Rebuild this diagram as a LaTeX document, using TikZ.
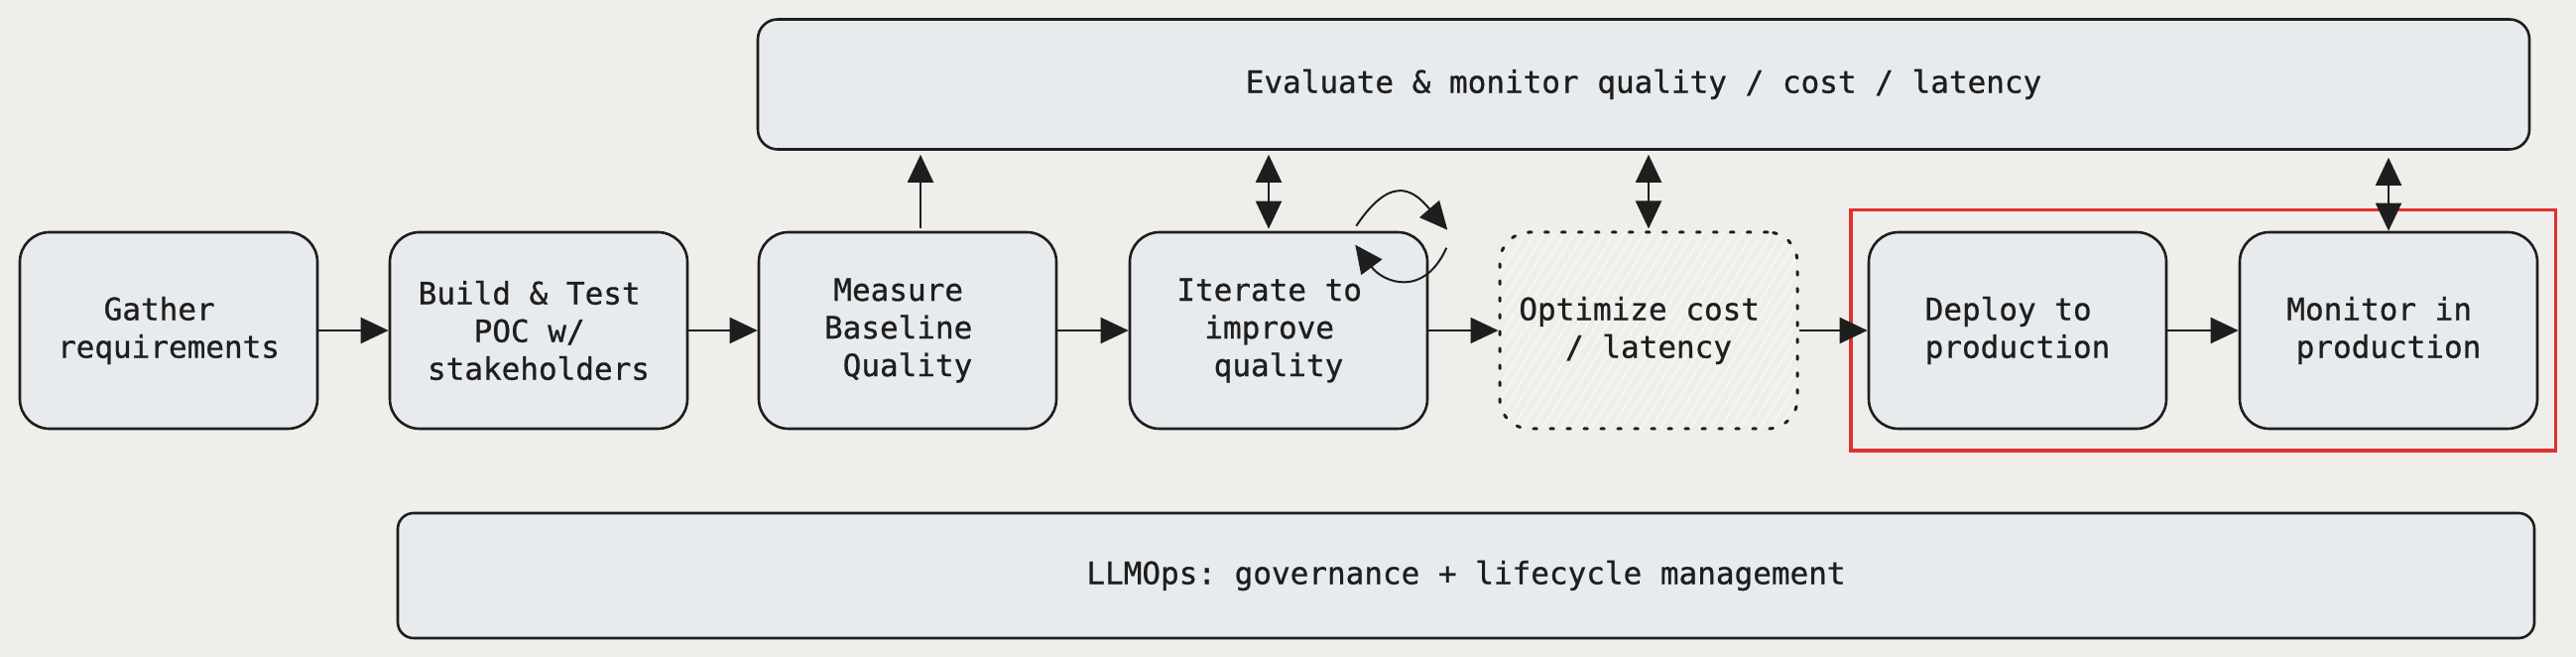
\documentclass[tikz,border=0pt]{standalone}
\usepackage{fontspec}
\setmonofont[FakeBold=0.8]{DejaVu Sans Mono}
\usepackage{tikz}
\usetikzlibrary{calc,arrows.meta,patterns.meta,fit}

\definecolor{bgpaper}{HTML}{EFEEEA}
\definecolor{boxfill}{HTML}{E8EBEE}
\definecolor{hatchline}{HTML}{FAFAF8}
\definecolor{inkline}{HTML}{1E1E1E}
\definecolor{redframe}{HTML}{E03131}

\newcommand{\trail}{\hphantom{x}}

\tikzset{
    stepbox/.style={draw=inkline, fill=boxfill, line width=1.3pt, rounded corners=15pt,
        minimum width=150pt, minimum height=99pt, align=center, text=inkline,
        font=\ttfamily\fontsize{15.5}{19}\selectfont},
    optbox/.style={fill=none, preaction={fill=bgpaper},
        pattern={Lines[angle=58,distance=4pt,line width=0.7pt]}, pattern color=hatchline,
        dash pattern=on 1.8pt off 6.7pt, line cap=round, line width=1.5pt},
    bandbox/.style={draw=inkline, fill=boxfill, line width=1.3pt, rounded corners=10pt,
        align=center, text=inkline, font=\ttfamily\fontsize{15.5}{19}\selectfont},
    flowarrow/.style={draw=inkline, line width=1pt, -{Triangle[length=14pt,width=13pt]}},
    twoway/.style={draw=inkline, line width=1pt, {Triangle[length=14pt,width=13pt]}-{Triangle[length=14pt,width=13pt]}},
}

\begin{document}
\begin{tikzpicture}[x=0.5pt, y=0.5pt]
    \fill[bgpaper] (0,0) rectangle (2597,662);
    \useasboundingbox (0,0) rectangle (2597,662);

    % main row
    \node[stepbox] (Gather) at (170,329) {Gather\trail\\requirements};
    \node[stepbox] (Build) at (543,329) {Build \& Test\trail\\POC w/\trail\\stakeholders};
    \node[stepbox] (Measure) at (915,329) {Measure\trail\\Baseline\trail\\Quality};
    \node[stepbox] (Iterate) at (1289,329) {Iterate to\trail\\improve\trail\\quality};
    \node[stepbox, optbox] (Optimize) at (1662,329) {Optimize cost\trail\\/ latency};
    \node[stepbox] (Deploy) at (2034,329) {Deploy to\trail\\production};
    \node[stepbox] (Monitor) at (2408,329) {Monitor in\trail\\production};

    % bands
    \node[bandbox, minimum width=893pt, minimum height=65.5pt] (Evaluate) at (1657,577)
        {Evaluate \& monitor quality / cost / latency};
    \node[bandbox, rounded corners=8pt, minimum width=1077pt, minimum height=63pt] (LLMOps) at (1478,82)
        {LLMOps: governance + lifecycle management};

    % production frame
    \node[draw=redframe, line width=1.8pt, inner xsep=8.5pt, inner ysep=10.5pt,
        fit=(Deploy)(Monitor)] (ProdFrame) {};

    \draw[flowarrow] (Gather) -- (Build);
    \draw[flowarrow] (Build) -- (Measure);
    \draw[flowarrow] (Measure) -- (Iterate);
    \draw[flowarrow] (Iterate) -- (Optimize);
    \draw[flowarrow] (Optimize) -- (Deploy);
    \draw[flowarrow] (Deploy) -- (Monitor);

    \draw[flowarrow, shorten <=1.5pt, shorten >=2pt] ([xshift=6.5pt]Measure.north) -- ([xshift=6.5pt]Measure.north |- Evaluate.south);
    \draw[twoway, shorten <=2pt, shorten >=1pt] ([xshift=-5pt]Iterate.north |- Evaluate.south) -- ([xshift=-5pt]Iterate.north);
    \draw[twoway, shorten <=2pt, shorten >=1pt] (Optimize.north |- Evaluate.south) -- (Optimize.north);
    \draw[twoway, shorten <=3.5pt] (Monitor.north |- Evaluate.south) -- (Monitor.north);

    % iterate loop
    \coordinate (LoopA) at ($(Iterate.north east)+(-73,5)$);
    \coordinate (LoopB) at ($(Iterate.north east)+(19,1)$);
    \coordinate (LoopC) at ($(Iterate.north east)+(18,-17)$);
    \coordinate (LoopD) at ($(Iterate.north east)+(-74,-14)$);
    \draw[flowarrow] (LoopA) .. controls ($(Iterate.north east)+(-35,62)$) and ($(Iterate.north east)+(-12,37)$) .. (LoopB);
    \draw[flowarrow] (LoopC) .. controls ($(Iterate.north east)+(-5,-68)$) and ($(Iterate.north east)+(-46,-52)$) .. (LoopD);
\end{tikzpicture}
\end{document}
